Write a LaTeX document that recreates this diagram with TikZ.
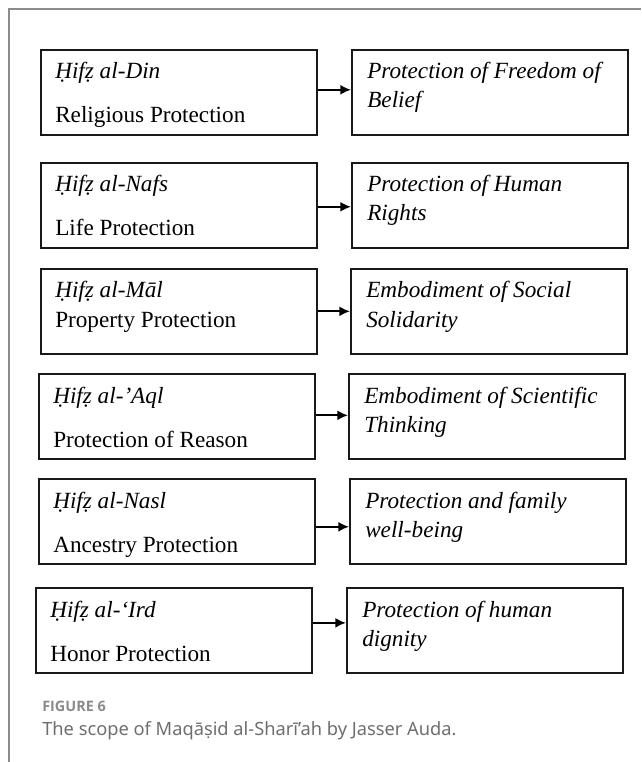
\documentclass[tikz,border=0pt]{standalone}
\usepackage{fontspec}
\setmainfont{Liberation Serif}
\newfontfamily\capfont{Noto Sans}
\newfontfamily\fignumfont{Open Sans}
\usetikzlibrary{arrows.meta}
\definecolor{framegray}{HTML}{8C8C8C}
\definecolor{capgray}{HTML}{6E6E6E}
\definecolor{figgray}{HTML}{8A8A8A}

\begin{document}
\begin{tikzpicture}[x=0.75pt,y=-0.75pt,
	maqbox/.style={draw=black!90, line width=1.25pt, minimum width=207pt, minimum height=63.75pt, inner sep=0pt, anchor=north west},
	boxtext/.style={anchor=base west, inner sep=0pt, font=\fontsize{17.4}{20}\selectfont},
	boxtextit/.style={boxtext, font=\fontsize{17.4}{20}\selectfont\itshape},
	maqarrow/.style={line width=1.5pt, -{Latex[length=8pt,width=7.5pt]}}]
		\useasboundingbox (0,0) rectangle (641,762);
		
		%outer frame
		\draw[framegray, line width=1.1pt] (641,9) -- (9,9) -- (9,762);
		
		%rows: term, gloss and aim
		\foreach \n/\xl/\xr/\y/\dy/\ay/\term/\gloss/\aimA/\aimB in {
			1/40/351/49/55.5/1.9/{Ḥifẓ al-Din}/{Religious Protection}/{Protection of Freedom of}/{Belief},
			2/40/351/162/55.5/-1.1/{Ḥifẓ al-Nafs}/{Life Protection}/{Protection of Human}/{Rights},
			3/40/350/268/44.25/0/{Ḥifẓ al-Māl}/{Property Protection}/{Embodiment of Social}/{Solidarity},
			4/38/348/373/55.5/0.75/{Ḥifẓ al-’Aql}/{Protection of Reason}/{Embodiment of Scientific}/{Thinking},
			5/38/349/478/55.5/-4.1/{Ḥifẓ al-Nasl}/{Ancestry Protection}/{Protection and family}/{well-being},
			6/35/346/587/55.5/5.6/{Ḥifẓ al-‘Ird}/{Honor Protection}/{Protection of human}/{dignity}}
		{
			\node[maqbox] (hifz\n) at (\xl,\y) {};
			\node[maqbox] (aim\n) at (\xr,\y) {};
			\node[boxtextit] (term\n) at ([xshift=11.25pt,yshift=-22.5pt]hifz\n.north west) {\term};
			\node[boxtext] (gloss\n) at ([xshift=11.25pt,yshift=-\dy pt]hifz\n.north west) {\gloss};
			\node[boxtextit] (aimA\n) at ([xshift=12pt,yshift=-22.5pt]aim\n.north west) {\aimA};
			\node[boxtextit] (aimB\n) at ([xshift=12pt,yshift=-44.25pt]aim\n.north west) {\aimB};
			\draw[maqarrow] ([yshift=\ay pt]hifz\n.east) -- ([yshift=\ay pt]aim\n.west);
		}
		
		%caption
		\node[anchor=base west, inner sep=0pt, font=\fignumfont\fontsize{10.8}{13}\selectfont\bfseries, text=figgray] (fignum) at (42,711) {FIGURE 6};
		\node[anchor=base west, inner sep=0pt, font=\capfont\fontsize{13.7}{16}\selectfont, text=capgray] (figcap) at (42,735) {The scope of Maqāṣid al-Sharī’ah by Jasser Auda.};
	\end{tikzpicture}
\end{document}
